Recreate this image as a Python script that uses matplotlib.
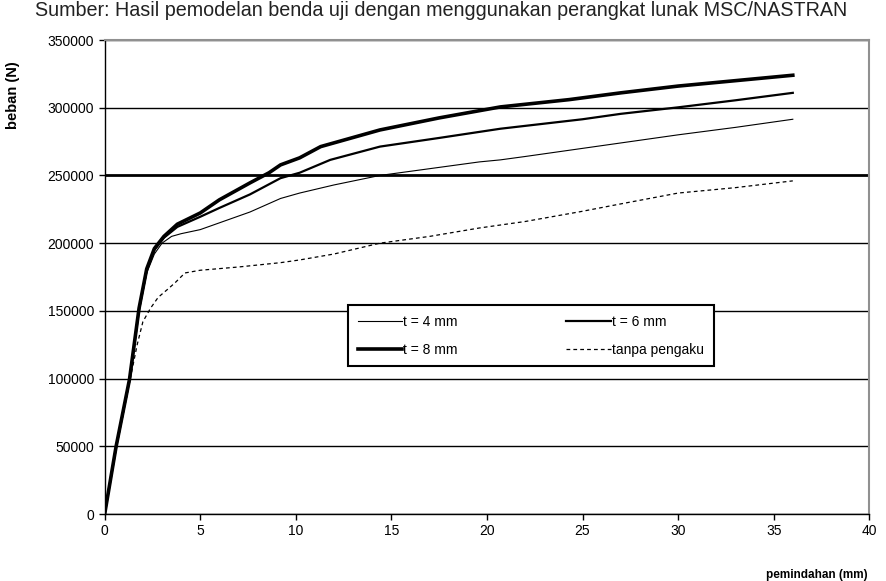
import matplotlib
matplotlib.use("Agg")
import matplotlib.pyplot as plt

plt.rcParams['font.family'] = ['Liberation Sans', 'DejaVu Sans']

# load-displacement data
x_t4 = [0, 0.6, 1.3, 1.8, 2.2, 2.6, 3.0, 3.5, 4.0, 5, 6, 7.6, 9.2, 10.2, 12, 14.4,
        17, 19.6, 20.7, 22, 25, 27, 30, 33, 36]
y_t4 = [0, 49000, 99000, 150000, 178000, 192000, 200000, 205000, 207000, 210000,
        215000, 223000, 233000, 237000, 243000, 250000, 255000, 260000, 261500,
        264000, 270000, 274000, 280000, 285500, 291500]

x_t6 = [0, 0.6, 1.3, 1.8, 2.2, 2.6, 3.1, 3.8, 5, 6, 7.6, 9.2, 10.2, 11.8, 14.4,
        17.5, 20.7, 25, 27, 30, 33, 36]
y_t6 = [0, 49500, 99000, 151000, 180000, 195000, 204000, 212000, 219500, 226000,
        236000, 248000, 252000, 261500, 271300, 277700, 284500, 291500, 295500,
        300300, 305500, 311000]

x_t8 = [0, 0.6, 1.3, 1.8, 2.2, 2.6, 3.1, 3.8, 5, 6, 7.6, 8.6, 9.2, 10.2, 11.3,
        14.4, 17.5, 20.7, 24.3, 27, 30, 33, 36]
y_t8 = [0, 50000, 99500, 152000, 181000, 196000, 205000, 214000, 222300, 232000,
        244500, 252000, 257800, 263000, 271300, 283600, 292500, 300600, 306000,
        311000, 316000, 320000, 324000]

x_tp = [0, 0.6, 1.3, 1.7, 2.0, 2.4, 2.8, 3.3, 3.7, 4.2, 5, 7, 9.2, 10.2, 12, 14.4,
        17, 19.6, 22, 24.9, 27, 30, 33, 36]
y_tp = [0, 48000, 97000, 125000, 142000, 152000, 160000, 166000, 171000, 178000,
        180000, 182400, 185600, 187600, 192000, 200000, 205000, 211200, 216000,
        223300, 229000, 237000, 241000, 246000]

x_ticks = [0, 5, 10, 15, 20, 25, 30, 35, 40]
y_ticks = [0, 50000, 100000, 150000, 200000, 250000, 300000, 350000]

fig = plt.figure(figsize=(8.87, 5.81), dpi=100)
ax = fig.add_axes([0.118, 0.1153, 0.862, 0.8158])

l4, = ax.plot(x_t4, y_t4, color='black', lw=0.8, label='t = 4 mm')
l6, = ax.plot(x_t6, y_t6, color='black', lw=1.6, label='t = 6 mm')
l8, = ax.plot(x_t8, y_t8, color='black', lw=2.6, label='t = 8 mm')
lp, = ax.plot(x_tp, y_tp, color='black', lw=0.9, ls=(0, (3, 2.5)), label='tanpa pengaku')

ax.set_xlim(0, 40)
ax.set_ylim(0, 350000)
ax.set_xticks(x_ticks)
ax.set_yticks(y_ticks)
ax.set_xticklabels([str(v) for v in x_ticks], fontsize=10)
ax.set_yticklabels([str(v) for v in y_ticks], fontsize=10)
ax.tick_params(direction='out', length=4, width=1, colors='black')

ax.yaxis.grid(True, color='black', lw=1)
for v, gl in zip(ax.get_yticks(), ax.get_ygridlines()):
    if v == 250000:
        gl.set_linewidth(2)
ax.set_axisbelow(True)

for s in ['top', 'right']:
    ax.spines[s].set_color('#909090')
    ax.spines[s].set_linewidth(1.5)
for s in ['left', 'bottom']:
    ax.spines[s].set_color('black')
    ax.spines[s].set_linewidth(1)

leg = ax.legend([l4, l8, l6, lp], [h.get_label() for h in [l4, l8, l6, lp]],
                ncol=2, loc='upper left', bbox_to_anchor=(0.318, 0.441),
                borderaxespad=0, fontsize=10, frameon=True, fancybox=False,
                edgecolor='black', framealpha=1, handlelength=3.2,
                handletextpad=0.1, columnspacing=7.8, borderpad=0.7,
                labelspacing=1.0)
leg.get_frame().set_linewidth(1.5)

fig.text(0.015, 0.836, 'beban (N)', rotation=90, fontsize=10.5, fontweight='bold',
         ha='center', va='center')
fig.text(0.921, 0.010, 'pemindahan (mm)', fontsize=8.5, fontweight='bold',
         ha='center', va='center')
fig.text(0.04, 0.998, 'Sumber: Hasil pemodelan benda uji dengan menggunakan perangkat lunak MSC/NASTRAN',
         fontsize=14.2, color='#222222', ha='left', va='top')

fig.savefig('out.png', dpi=100)
